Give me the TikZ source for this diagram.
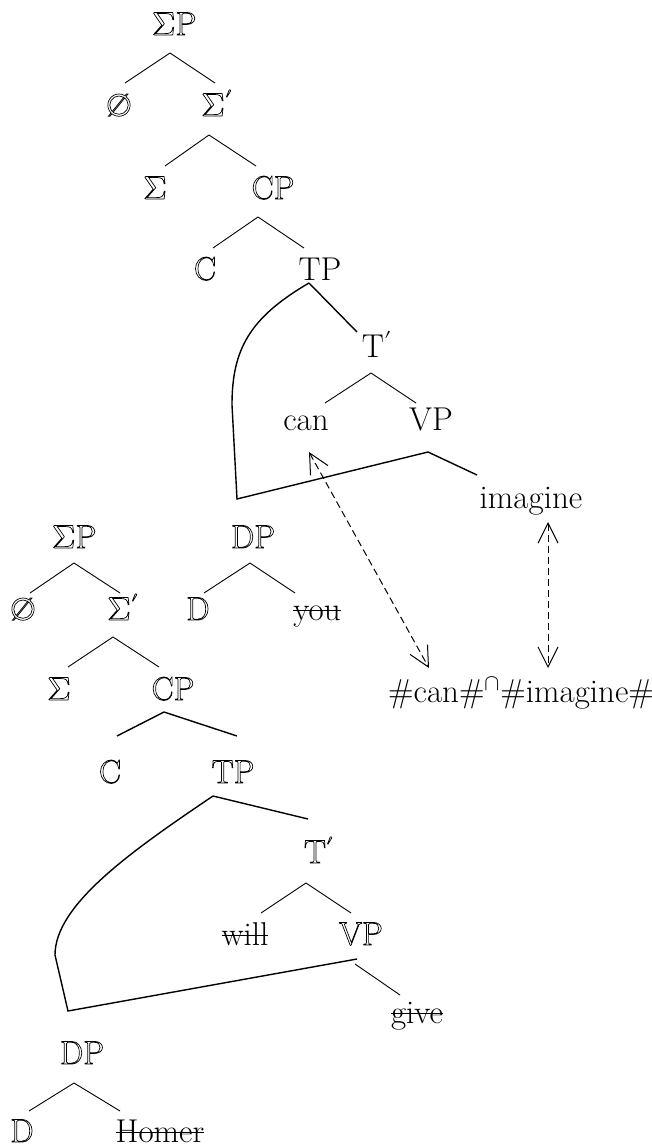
\documentclass[tikz,border=0pt]{standalone}
\usepackage{fontspec}
\usepackage{unicode-math}
\newfontfamily\djv{DejaVu Sans}
\usetikzlibrary{arrows.meta}
\newcommand\outl[1]{\special{pdf:literal direct 1 Tr 0.7 w}#1\special{pdf:literal direct 0 Tr}}
\newcommand\nul{{\djv\fontsize{31}{34}\selectfont ∅}}
\newcommand\prm{\rlap{\raisebox{-3pt}{$'$}}}
\newsavebox\strkbox
\newcommand\strk[1]{\sbox\strkbox{#1}\rlap{\raisebox{9pt}{\rule{\wd\strkbox}{1.3pt}}}\usebox\strkbox}
\tikzset{
  lab/.style={inner sep=0pt, anchor=base, font=\fontsize{33}{40}\selectfont},
  txt/.style={inner sep=0pt, anchor=base, font=\fontsize{33}{40}\selectfont\addfontfeatures{FakeBold=0.35}},
  br/.style={line width=0.9pt},
  mv/.style={line width=1.4pt, line join=miter},
  dsh/.style={line width=1pt, dash pattern=on 7pt off 4pt,
    {Straight Barb[length=20pt,width=20pt]}-{Straight Barb[length=20pt,width=20pt]}}
}
\begin{document}
\begin{tikzpicture}[x=1pt,y=-1pt]
\useasboundingbox (0,0) rectangle (652,1147);
% ---------- upper tree ----------
\node[lab] (sp1) at (174,35) {\outl{$\Sigma$P}};
\node[lab] (nl1) at (119,116) {\outl{\nul}};
\node[lab] (sb1) at (213,116) {\outl{$\Sigma$\prm}};
\node[lab] (sg1) at (155,199) {\outl{$\Sigma$}};
\node[lab] (cp1) at (273,199) {\outl{CP}};
\node[lab] (c1) at (205,280) {\outl{C}};
\node[txt] (tp1) at (320,280) {TP};
\node[txt] (tb1) at (373,357) {T\prm};
\node[txt] (can) at (306,430) {can};
\node[txt] (vp1) at (431,430) {VP};
\node[txt] (img) at (531,508) {imagine};
\node[txt, anchor=base west] (hash) at (388,702) {\#can\#$^{\cap}$\#imagine\#};
% ---------- lower tree ----------
\node[lab] (sp2) at (74,548) {\outl{$\Sigma$P}};
\node[lab] (nl2) at (23,620) {\outl{\nul}};
\node[lab] (sb2) at (119,620) {\outl{$\Sigma$\prm}};
\node[lab] (sg2) at (59,700) {\outl{$\Sigma$}};
\node[lab] (cp2) at (173,700) {\outl{CP}};
\node[lab] (dp1) at (253,548) {\outl{DP}};
\node[lab] (d1) at (198,620) {\outl{D}};
\node[txt] (you) at (317,620) {\strk{you}};
\node[lab] (c2) at (110,783) {\outl{C}};
\node[lab] (tp2) at (233,783) {\outl{TP}};
\node[lab] (tb2) at (315,863) {\outl{T\prm}};
\node[txt] (will) at (245,945) {\strk{will}};
\node[lab] (vp2) at (361,945) {\outl{VP}};
\node[txt] (give) at (417,1023) {\strk{give}};
\node[lab] (dp2) at (82,1064) {\outl{DP}};
\node[lab] (d2) at (22,1142) {\outl{D}};
\node[txt] (homer) at (160,1142) {\strk{Homer}};
% ---------- upper edges ----------
\draw[br] ([shift={(-4,18)}]sp1.base) -- ([shift={(6,-33)}]nl1.base);
\draw[br] ([shift={(-4,18)}]sp1.base) -- ([shift={(2,-33)}]sb1.base);
\draw[br] ([shift={(-4,19)}]sb1.base) -- ([shift={(10,-33)}]sg1.base);
\draw[br] ([shift={(-4,19)}]sb1.base) -- ([shift={(-17,-33)}]cp1.base);
\draw[br] ([shift={(-15,18)}]cp1.base) -- ([shift={(8,-32)}]c1.base);
\draw[br] ([shift={(-15,18)}]cp1.base) -- ([shift={(-16,-32)}]tp1.base);
\draw[mv] ([shift={(-11,3)}]tp1.base) -- ([shift={(-16,-25)}]tb1.base);
\draw[br] ([shift={(-2,16)}]tb1.base) -- ([shift={(19,-27)}]can.base);
\draw[br] ([shift={(-2,16)}]tb1.base) -- ([shift={(-15,-27)}]vp1.base);
\coordinate (m1) at (232,405);
\coordinate (k1) at (237,499);
\draw[mv] ([shift={(-11,3)}]tp1.base) .. controls +(-60,35) and +(0,-55) .. (m1)
  -- (k1) -- ([shift={(-3,22)}]vp1.base) -- ([shift={(-54,-33)}]img.base);
\draw[dsh] ([shift={(3,22)}]can.base) -- ([shift={(41,-34)}]hash.base west);
\draw[dsh] ([shift={(17,14)}]img.base) -- ([shift={(160,-34)}]hash.base west);
% ---------- lower edges ----------
\draw[br] ([shift={(0,15)}]sp2.base) -- ([shift={(7,-27)}]nl2.base);
\draw[br] ([shift={(0,15)}]sp2.base) -- ([shift={(1,-27)}]sb2.base);
\draw[br] ([shift={(-6,17)}]sb2.base) -- ([shift={(9,-33)}]sg2.base);
\draw[br] ([shift={(-6,17)}]sb2.base) -- ([shift={(-14,-33)}]cp2.base);
\draw[br] ([shift={(-3,15)}]dp1.base) -- ([shift={(6,-27)}]d1.base);
\draw[br] ([shift={(-3,15)}]dp1.base) -- ([shift={(-22,-27)}]you.base);
\draw[mv] ([shift={(-9,12)}]cp2.base) -- ([shift={(7,-47)}]c2.base);
\draw[mv] ([shift={(-9,12)}]cp2.base) -- ([shift={(4,-47)}]tp2.base);
\draw[mv] ([shift={(-20,13)}]tp2.base) -- ([shift={(-7,-44)}]tb2.base);
\draw[br] ([shift={(-9,20)}]tb2.base) -- ([shift={(16,-32)}]will.base);
\draw[br] ([shift={(-9,20)}]tb2.base) -- ([shift={(-10,-32)}]vp2.base);
\coordinate (m2) at (55,955);
\coordinate (k2) at (68,1011);
\draw[mv] ([shift={(-20,13)}]tp2.base) .. controls +(-83,56) and +(0,-50) .. (m2)
  -- (k2) -- ([shift={(-4,14)}]vp2.base);
\draw[br] ([shift={(-6,19)}]vp2.base) -- ([shift={(-17,-28)}]give.base);
\draw[br] ([shift={(-8,19)}]dp2.base) -- ([shift={(7,-31)}]d2.base);
\draw[br] ([shift={(-8,19)}]dp2.base) -- ([shift={(-40,-31)}]homer.base);
\end{tikzpicture}
\end{document}
